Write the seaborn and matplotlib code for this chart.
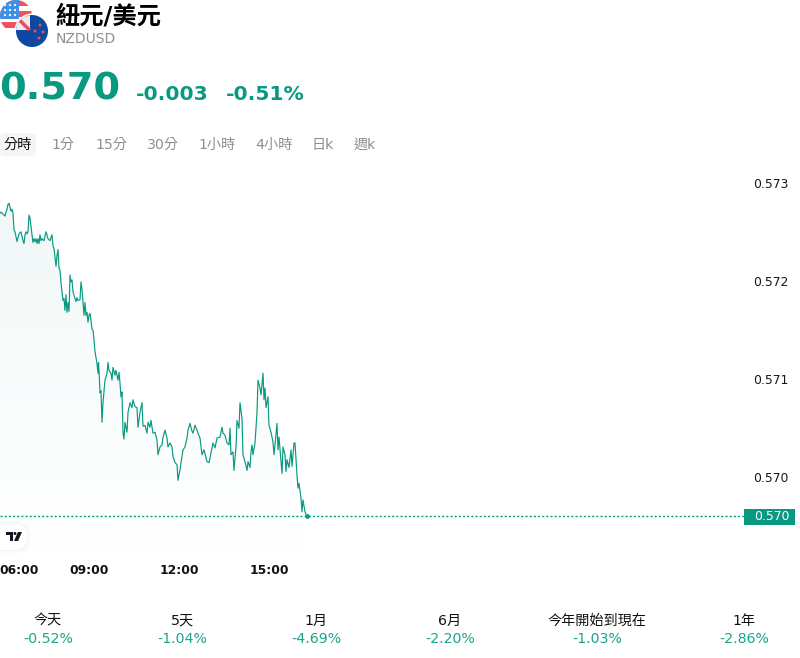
import numpy as np
import pandas as pd
import matplotlib
matplotlib.use("Agg")
import matplotlib.pyplot as plt
from matplotlib.patches import Circle, FancyBboxPatch, Polygon, Rectangle
from matplotlib.transforms import ScaledTranslation
import seaborn as sns

title = "紐元/美元"
symbol = "NZDUSD"
last_text = "0.570"
change_text = "-0.003"
change_pct_text = "-0.51%"
tabs = ["1分", "15分", "30分", "1小時", "4小時", "日k", "週k"]
tab_x = [63, 111, 163, 217, 274, 323, 365]
periods = ["今天", "5天", "1月", "6月", "今年開始到現在", "1年"]
period_changes = ["-0.52%", "-1.04%", "-4.69%", "-2.20%", "-1.03%", "-2.86%"]
period_x = [48, 182, 316, 450, 597, 744]
price_ticks = [0.573, 0.572, 0.571, 0.570]
time_ticks = [2, 180, 360, 540]
time_labels = ["06:00", "09:00", "12:00", "15:00"]

# minutes since 06:00
minutes = [2, 4, 8, 12, 14, 16, 18, 20, 22, 24, 26, 28, 30, 32, 36, 40, 44, 48, 50, 52, 54, 56, 58, 60,
           62, 64, 66, 68, 70, 72, 74, 76, 78, 80, 82, 84, 86, 90, 94, 98, 102, 106, 108, 110, 112, 114,
           116, 118, 120, 122, 124, 126, 128, 130, 132, 134, 136, 138, 140, 142, 144, 146, 148, 152, 154,
           156, 158, 162, 164, 166, 168, 170, 172, 174, 176, 178, 180, 182, 184, 186, 188, 190, 192, 196,
           198, 199, 200, 202, 204, 206, 208, 212, 216, 218, 220, 224, 226, 228, 232, 234, 238, 240, 242,
           244, 246, 248, 250, 252, 256, 258, 262, 266, 268, 272, 276, 278, 282, 286, 288, 292, 296, 298,
           302, 304, 308, 312, 316, 318, 322, 326, 328, 332, 336, 338, 342, 346, 348, 352, 356, 358, 362,
           366, 368, 372, 376, 378, 382, 386, 388, 392, 396, 398, 402, 406, 410, 416, 420, 426, 428, 432,
           436, 442, 446, 448, 452, 456, 460, 462, 464, 468, 470, 474, 476, 480, 482, 486, 488, 492, 496,
           498, 502, 504, 506, 508, 512, 516, 518, 522, 524, 528, 530, 532, 534, 538, 540, 544, 548, 550,
           552, 556, 558, 560, 566, 568, 572, 574, 576, 580, 584, 586, 590, 592, 596, 598, 600, 604, 606,
           608, 612, 615]
prices = [57269, 57270, 57268, 57266, 57270, 57273, 57278, 57279, 57275, 57271, 57273, 57269, 57252, 57250,
          57240, 57248, 57250, 57241, 57238, 57247, 57250, 57248, 57250, 57267, 57264, 57255, 57247, 57239,
          57243, 57240, 57243, 57238, 57243, 57238, 57247, 57241, 57243, 57241, 57250, 57243, 57241, 57247,
          57236, 57233, 57224, 57215, 57226, 57232, 57213, 57211, 57198, 57189, 57180, 57182, 57170, 57186,
          57168, 57178, 57169, 57206, 57199, 57201, 57189, 57182, 57179, 57183, 57180, 57181, 57199, 57191,
          57179, 57165, 57178, 57165, 57168, 57158, 57165, 57167, 57160, 57151, 57150, 57140, 57128, 57116,
          57106, 57117, 57109, 57086, 57088, 57056, 57076, 57099, 57106, 57117, 57109, 57106, 57099, 57112,
          57104, 57109, 57099, 57107, 57096, 57082, 57087, 57045, 57039, 57056, 57046, 57066, 57076, 57071,
          57079, 57072, 57071, 57051, 57066, 57076, 57052, 57053, 57045, 57056, 57051, 57058, 57045, 57046,
          57038, 57023, 57031, 57033, 57041, 57048, 57040, 57031, 57035, 57031, 57021, 57015, 57013, 56997,
          57008, 57021, 57028, 57031, 57040, 57048, 57055, 57047, 57045, 57053, 57048, 57045, 57040, 57023,
          57028, 57016, 57015, 57030, 57035, 57030, 57040, 57041, 57051, 57045, 57043, 57035, 57033, 57050,
          57023, 57026, 57007, 57031, 57058, 57050, 57076, 57060, 57023, 57016, 57007, 57016, 57010, 57026,
          57033, 57023, 57035, 57066, 57099, 57091, 57084, 57106, 57079, 57091, 57071, 57082, 57053, 57046,
          57036, 57023, 57033, 57055, 57028, 57041, 57004, 57031, 57023, 57006, 57018, 57010, 57028, 57011,
          57035, 57035, 57002, 56989, 56994, 56979, 56965, 56977, 56965, 56961]

n = min(len(minutes), len(prices))
df = pd.DataFrame({"minute": minutes[:n], "price": np.array(prices[:n]) / 1e5})
last_price = df["price"].iloc[-1]

GREEN = "#089981"
GRAY = "#8f8f8f"
W, H = 800, 658

sns.set_theme(style="white")
plt.rcParams["font.family"] = ["DejaVu Sans", "Noto Sans CJK TC"]

fig = plt.figure(figsize=(8.0, 6.58), dpi=100, facecolor="white")
ax = fig.add_axes([0, (H - 552) / H, 744 / W, (552 - 165) / H])
ax.set_xlim(2, 2 + 744 * 2)
ax.set_ylim(0.56924, 0.57318)
ax.patch.set_alpha(0)
sns.despine(ax=ax, left=True, bottom=True, top=True, right=True)

# area under the line, fading downward
poly = ax.fill_between(df["minute"], df["price"], 0.56924, color="none", linewidth=0)
grad = np.linspace(0, 1, 256).reshape(-1, 1)
cmap = matplotlib.colors.LinearSegmentedColormap.from_list("f", ["#f1f8f7", "#ffffff"])
im = ax.imshow(grad, extent=[2, 2 + 744 * 2, 0.56924, 0.57285], origin="upper",
               aspect="auto", cmap=cmap, zorder=1)
im.set_clip_path(poly.get_paths()[0], transform=ax.transData)
ax.set_xlim(2, 2 + 744 * 2)
ax.set_ylim(0.56924, 0.57318)

sns.lineplot(data=df, x="minute", y="price", ax=ax, color=GREEN, linewidth=0.85,
             estimator=None, errorbar=None, zorder=3)
ax.axhline(last_price, color=GREEN, linewidth=1, linestyle=(0, (1.5, 1.5)), zorder=2)
ax.plot([df["minute"].iloc[-1]], [last_price], "o", color=GREEN, markersize=2.4, zorder=4)

ax.set_xlabel("")
ax.set_ylabel("")
ax.yaxis.tick_right()
ax.set_yticks(price_ticks)
ax.set_yticklabels([f"{p:.3f}" for p in price_ticks], fontsize=8.9, color="#131722")
ax.tick_params(axis="y", length=0, pad=6.3)
ax.set_xticks(time_ticks)
ax.set_xticklabels(time_labels, fontsize=8.8, fontweight="bold", color="#111111")
ax.tick_params(axis="x", length=0, pad=8.7)
first = ax.get_xticklabels()[0]
first.set_ha("left")
first.set_transform(first.get_transform() + ScaledTranslation(-1 / 100, 0, fig.dpi_scale_trans))

# overlay in pixel coordinates for the page furniture
ov = fig.add_axes([0, 0, 1, 1], zorder=5)
ov.set_xlim(0, W)
ov.set_ylim(H, 0)
ov.axis("off")
ov.patch.set_alpha(0)

# flags
us = Circle((16, 16), 16, facecolor="#ffffff", edgecolor="none")
ov.add_patch(us)
for y in (0, 11, 22):
    r = Rectangle((0, y), 32, 5.5, facecolor="#f0525a", edgecolor="none")
    ov.add_patch(r)
    r.set_clip_path(us)
canton = Rectangle((0, 0), 19, 19, facecolor="#3f8fe8", edgecolor="none")
ov.add_patch(canton)
canton.set_clip_path(us)
for sx in (5, 10, 15):
    for sy in (5, 10, 15):
        ov.add_patch(Circle((sx, sy), 1.1, facecolor="white", edgecolor="none"))
ov.add_patch(Circle((32, 31), 17.5, facecolor="white", edgecolor="none"))
nz = Circle((32, 31), 16, facecolor="#0f47a1", edgecolor="none")
ov.add_patch(nz)
uk = Rectangle((14, 14), 16, 16, facecolor="#f4ecec", edgecolor="none")
ov.add_patch(uk)
uk.set_clip_path(nz)
p = Polygon([(16, 19), (19, 17), (31, 29), (28, 31)], facecolor="#e8505a", edgecolor="none")
ov.add_patch(p)
p.set_clip_path(nz)
for sx, sy in ((40, 25), (35, 31), (43, 32), (39, 38)):
    ov.add_patch(Circle((sx, sy), 1.5, facecolor="#e8505a", edgecolor="none"))

# header
ov.text(55, 17, title, fontsize=17.5, fontweight="bold", color="black", va="center", ha="left")
ov.text(56, 39, symbol, fontsize=10, color=GRAY, va="center", ha="left")
ov.text(-1, 90, last_text, fontsize=27.5, fontweight="bold", color=GREEN, va="center", ha="left")
ov.text(136, 94, change_text, fontsize=14.6, fontweight="bold", color=GREEN, va="center", ha="left")
ov.text(226, 94, change_pct_text, fontsize=14.6, fontweight="bold", color=GREEN, va="center", ha="left")

# tabs
ov.add_patch(FancyBboxPatch((2, 135), 32, 19, boxstyle="round,pad=0,rounding_size=3",
                            mutation_aspect=1, facecolor="#f5f5f5", edgecolor="#f5f5f5", linewidth=3))
ov.text(18, 145, "分時", fontsize=10.2, color="#111111", ha="center", va="center")
for t, x in zip(tabs, tab_x):
    ov.text(x, 145, t, fontsize=10.2, color=GRAY, ha="center", va="center")

# last price tag
ov.add_patch(Rectangle((744, 509), 51, 16, facecolor=GREEN, edgecolor="none"))
ov.text(754, 517, last_text, fontsize=8.9, color="white", ha="left", va="center")

# TradingView badge
for pad, a in ((4, 0.008), (2.5, 0.012), (1, 0.018)):
    ov.add_patch(FancyBboxPatch((-20, 524 - pad), 47 + pad, 26 + 2 * pad,
                                boxstyle="round,pad=0,rounding_size=13", facecolor="black",
                                edgecolor="none", alpha=a))
ov.add_patch(FancyBboxPatch((-20, 524), 47, 26, boxstyle="round,pad=0,rounding_size=13",
                            facecolor="white", edgecolor="none"))
LOGO = "#131722"
ov.add_patch(Polygon([(6, 532), (13, 532), (13, 541), (10, 541), (10, 535), (6, 535)], facecolor=LOGO, edgecolor="none"))
ov.add_patch(Circle((15, 533.5), 1.5, facecolor=LOGO, edgecolor="none"))
ov.add_patch(Polygon([(18, 532), (22, 532), (18, 541), (14, 541)], facecolor=LOGO, edgecolor="none"))

# period performance row
for label, change, x in zip(periods, period_changes, period_x):
    ov.text(x, 621, label, fontsize=10.2, color="#111111", ha="center", va="center")
    ov.text(x, 639, change, fontsize=10.2, color="#1aa58d", ha="center", va="center")

fig.savefig("out.png", dpi=100, facecolor="white")
